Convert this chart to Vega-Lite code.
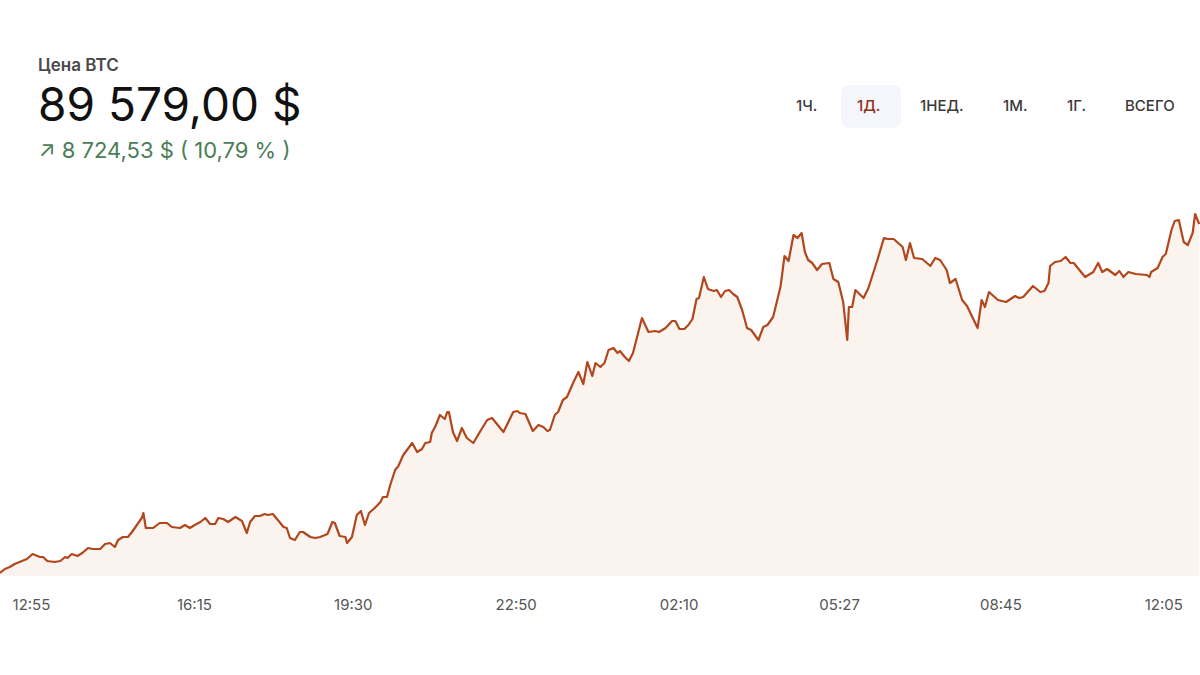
{
  "$schema": "https://vega.github.io/schema/vega-lite/v6.json",
  "width": 1200,
  "height": 386,
  "autosize": {"type": "none"},
  "padding": {"top": 190, "bottom": 99, "left": 0, "right": 0},
  "background": "white",
  "config": {"view": {"stroke": null}, "font": "Inter"},
  "title": {
    "text": "Цена BTC",
    "subtitle": "89 579,00 $",
    "anchor": "start",
    "frame": "group",
    "dx": 38,
    "font": "Inter",
    "fontSize": 17,
    "fontWeight": 600,
    "color": "#4a4a4a",
    "subtitleFont": "Inter",
    "subtitleFontSize": 46,
    "subtitleFontWeight": 400,
    "subtitleColor": "#111111",
    "subtitlePadding": 10,
    "offset": -46
  },
  "data": {
    "values": [
      {"m": 17, "price": 80854}, {"m": 23, "price": 80954}, {"m": 29, "price": 81004}, {"m": 35, "price": 81079},
      {"m": 44, "price": 81154}, {"m": 50, "price": 81204}, {"m": 57, "price": 81329}, {"m": 66, "price": 81254},
      {"m": 70, "price": 81254}, {"m": 75, "price": 81154}, {"m": 84, "price": 81129}, {"m": 91, "price": 81154},
      {"m": 97, "price": 81254}, {"m": 100, "price": 81229}, {"m": 105, "price": 81329}, {"m": 112, "price": 81279},
      {"m": 118, "price": 81354}, {"m": 125, "price": 81479}, {"m": 131, "price": 81454}, {"m": 140, "price": 81454},
      {"m": 146, "price": 81579}, {"m": 152, "price": 81604}, {"m": 158, "price": 81504}, {"m": 162, "price": 81679},
      {"m": 168, "price": 81754}, {"m": 174, "price": 81754}, {"m": 179, "price": 81879}, {"m": 185, "price": 82054},
      {"m": 191, "price": 82229}, {"m": 193, "price": 82354}, {"m": 196, "price": 81979}, {"m": 205, "price": 81979},
      {"m": 213, "price": 82104}, {"m": 222, "price": 82104}, {"m": 228, "price": 82004}, {"m": 238, "price": 81979},
      {"m": 244, "price": 82054}, {"m": 250, "price": 81979}, {"m": 256, "price": 82054}, {"m": 263, "price": 82129},
      {"m": 269, "price": 82229}, {"m": 275, "price": 82079}, {"m": 281, "price": 82079}, {"m": 285, "price": 82229},
      {"m": 291, "price": 82204}, {"m": 297, "price": 82129}, {"m": 306, "price": 82254}, {"m": 314, "price": 82154},
      {"m": 320, "price": 81854}, {"m": 324, "price": 82129}, {"m": 330, "price": 82279}, {"m": 336, "price": 82279},
      {"m": 342, "price": 82329}, {"m": 346, "price": 82304}, {"m": 352, "price": 82329}, {"m": 358, "price": 82179},
      {"m": 365, "price": 82004}, {"m": 369, "price": 81979}, {"m": 373, "price": 81729}, {"m": 379, "price": 81679},
      {"m": 385, "price": 81879}, {"m": 389, "price": 81879}, {"m": 398, "price": 81754}, {"m": 404, "price": 81729},
      {"m": 410, "price": 81754}, {"m": 419, "price": 81829}, {"m": 425, "price": 82129}, {"m": 428, "price": 82104},
      {"m": 434, "price": 81779}, {"m": 441, "price": 81754}, {"m": 443, "price": 81604}, {"m": 449, "price": 81754},
      {"m": 455, "price": 82304}, {"m": 460, "price": 82404}, {"m": 465, "price": 82054}, {"m": 470, "price": 82354},
      {"m": 477, "price": 82479}, {"m": 484, "price": 82629}, {"m": 487, "price": 82754}, {"m": 492, "price": 82754},
      {"m": 496, "price": 83054}, {"m": 502, "price": 83429}, {"m": 506, "price": 83529}, {"m": 512, "price": 83804},
      {"m": 523, "price": 84104}, {"m": 529, "price": 83879}, {"m": 535, "price": 83954}, {"m": 539, "price": 84104},
      {"m": 545, "price": 84129}, {"m": 547, "price": 84354}, {"m": 551, "price": 84504}, {"m": 557, "price": 84804},
      {"m": 563, "price": 84704}, {"m": 566, "price": 84879}, {"m": 568, "price": 84879}, {"m": 573, "price": 84379},
      {"m": 578, "price": 84154}, {"m": 584, "price": 84479}, {"m": 590, "price": 84229}, {"m": 598, "price": 84104},
      {"m": 606, "price": 84379}, {"m": 615, "price": 84679}, {"m": 621, "price": 84729}, {"m": 635, "price": 84379},
      {"m": 647, "price": 84879}, {"m": 652, "price": 84904}, {"m": 655, "price": 84854}, {"m": 662, "price": 84829},
      {"m": 671, "price": 84404}, {"m": 678, "price": 84554}, {"m": 684, "price": 84504}, {"m": 689, "price": 84404},
      {"m": 692, "price": 84429}, {"m": 698, "price": 84804}, {"m": 702, "price": 84879}, {"m": 708, "price": 85179},
      {"m": 713, "price": 85254}, {"m": 721, "price": 85629}, {"m": 727, "price": 85879}, {"m": 733, "price": 85579},
      {"m": 738, "price": 86129}, {"m": 744, "price": 85779}, {"m": 748, "price": 86104}, {"m": 754, "price": 86004},
      {"m": 759, "price": 86104}, {"m": 764, "price": 86429}, {"m": 770, "price": 86479}, {"m": 775, "price": 86354},
      {"m": 778, "price": 86404}, {"m": 784, "price": 86254}, {"m": 789, "price": 86154}, {"m": 794, "price": 86354},
      {"m": 805, "price": 87229}, {"m": 813, "price": 86879}, {"m": 821, "price": 86904}, {"m": 826, "price": 86879},
      {"m": 834, "price": 86979}, {"m": 842, "price": 87154}, {"m": 846, "price": 87154}, {"m": 851, "price": 86954},
      {"m": 857, "price": 86954}, {"m": 862, "price": 87054}, {"m": 867, "price": 87204}, {"m": 872, "price": 87704},
      {"m": 875, "price": 87729}, {"m": 881, "price": 88254}, {"m": 886, "price": 87954}, {"m": 893, "price": 87904},
      {"m": 897, "price": 87929}, {"m": 902, "price": 87754}, {"m": 907, "price": 87904}, {"m": 912, "price": 87929},
      {"m": 917, "price": 87829}, {"m": 922, "price": 87754}, {"m": 928, "price": 87429}, {"m": 934, "price": 86979},
      {"m": 939, "price": 86929}, {"m": 948, "price": 86679}, {"m": 954, "price": 87004}, {"m": 959, "price": 87054},
      {"m": 966, "price": 87254}, {"m": 975, "price": 88004}, {"m": 980, "price": 88779}, {"m": 985, "price": 88654},
      {"m": 991, "price": 89304}, {"m": 996, "price": 89229}, {"m": 1001, "price": 89354}, {"m": 1005, "price": 88879},
      {"m": 1009, "price": 88679}, {"m": 1014, "price": 88604}, {"m": 1020, "price": 88429}, {"m": 1026, "price": 88579},
      {"m": 1035, "price": 88604}, {"m": 1040, "price": 88204}, {"m": 1046, "price": 88129}, {"m": 1052, "price": 87629},
      {"m": 1057, "price": 86679}, {"m": 1059, "price": 87504}, {"m": 1063, "price": 87504}, {"m": 1067, "price": 87929},
      {"m": 1077, "price": 87729}, {"m": 1083, "price": 87979}, {"m": 1094, "price": 88679}, {"m": 1102, "price": 89229},
      {"m": 1107, "price": 89204}, {"m": 1114, "price": 89204}, {"m": 1125, "price": 89004}, {"m": 1129, "price": 88679},
      {"m": 1134, "price": 89104}, {"m": 1139, "price": 88729}, {"m": 1149, "price": 88704}, {"m": 1159, "price": 88529},
      {"m": 1165, "price": 88729}, {"m": 1171, "price": 88679}, {"m": 1179, "price": 88429}, {"m": 1183, "price": 88104},
      {"m": 1190, "price": 88204}, {"m": 1198, "price": 87679}, {"m": 1204, "price": 87529}, {"m": 1217, "price": 86979},
      {"m": 1222, "price": 87679}, {"m": 1226, "price": 87504}, {"m": 1231, "price": 87879}, {"m": 1242, "price": 87679},
      {"m": 1252, "price": 87629}, {"m": 1263, "price": 87779}, {"m": 1268, "price": 87729}, {"m": 1273, "price": 87754},
      {"m": 1285, "price": 88029}, {"m": 1294, "price": 87879}, {"m": 1299, "price": 87904}, {"m": 1304, "price": 88104},
      {"m": 1306, "price": 88529}, {"m": 1312, "price": 88629}, {"m": 1319, "price": 88654}, {"m": 1325, "price": 88754},
      {"m": 1331, "price": 88604}, {"m": 1335, "price": 88604}, {"m": 1349, "price": 88254}, {"m": 1359, "price": 88379},
      {"m": 1365, "price": 88604}, {"m": 1370, "price": 88379}, {"m": 1376, "price": 88454}, {"m": 1386, "price": 88304},
      {"m": 1391, "price": 88404}, {"m": 1396, "price": 88254}, {"m": 1402, "price": 88379}, {"m": 1411, "price": 88329},
      {"m": 1425, "price": 88304}, {"m": 1428, "price": 88254}, {"m": 1430, "price": 88379}, {"m": 1438, "price": 88479},
      {"m": 1444, "price": 88754}, {"m": 1448, "price": 88829}, {"m": 1455, "price": 89429}, {"m": 1459, "price": 89654},
      {"m": 1464, "price": 89679}, {"m": 1470, "price": 89129}, {"m": 1475, "price": 89054}, {"m": 1481, "price": 89354},
      {"m": 1484, "price": 89829}, {"m": 1489, "price": 89579}
    ]
  },
  "encoding": {
    "x": {
      "field": "m",
      "type": "quantitative",
      "scale": {"domain": [17, 1490], "nice": false, "zero": false},
      "axis": {
        "values": [55, 255, 450, 650, 850, 1047, 1245, 1445],
        "labelExpr": "datum.value == 55 ? '12:55' : datum.value == 255 ? '16:15' : datum.value == 450 ? '19:30' : datum.value == 650 ? '22:50' : datum.value == 850 ? '02:10' : datum.value == 1047 ? '05:27' : datum.value == 1245 ? '08:45' : '12:05'",
        "grid": false,
        "domain": false,
        "ticks": false,
        "tickSize": 0,
        "labelPadding": 21,
        "labelFont": "Inter",
        "labelFontSize": 15,
        "labelColor": "#555555",
        "labelFlush": false,
        "title": null
      }
    },
    "y": {
      "field": "price",
      "type": "quantitative",
      "scale": {"domain": [80779, 90429], "nice": false, "zero": false},
      "axis": {
        "labels": false,
        "ticks": false,
        "domain": false,
        "grid": false,
        "title": "↗ 8 724,53 $ ( 10,79 % )",
        "titleAngle": 0,
        "titleAlign": "left",
        "titleBaseline": "alphabetic",
        "titleX": 38,
        "titleY": -33,
        "titleFont": "Inter",
        "titleFontSize": 22,
        "titleFontWeight": 400,
        "titleColor": "#4b7d56"
      }
    }
  },
  "layer": [
    {
      "mark": {"type": "area", "clip": true},
      "encoding": {
        "fill": {
          "datum": 1,
          "type": "quantitative",
          "scale": {"domain": [0, 1], "range": ["#fbf3ee", "#fbf3ee"]},
          "legend": {
            "orient": "none",
            "legendX": 841,
            "legendY": -105,
            "zindex": 0,
            "title": null,
            "direction": "horizontal",
            "padding": 12,
            "cornerRadius": 8,
            "fillColor": "#f4f6fb",
            "strokeColor": null,
            "gradientLength": 36,
            "gradientThickness": 18,
            "gradientOpacity": 0,
            "gradientStrokeWidth": 0,
            "values": [0, 1],
            "labelExpr": "''",
            "labelOffset": 0,
            "labelFontSize": 1,
            "labelOpacity": 0
          }
        }
      }
    },
    {
      "mark": {"type": "line", "strokeWidth": 2.2, "strokeJoin": "round"},
      "encoding": {
        "color": {
          "datum": "1Д.",
          "scale": {
            "domain": ["1Ч.", "1Д.", "1НЕД.", "1М.", "1Г.", "ВСЕГО"],
            "range": ["#b2461c", "#b2461c", "#b2461c", "#b2461c", "#b2461c", "#b2461c"]
          },
          "legend": {
            "orient": "none",
            "legendX": 781,
            "legendY": -92,
            "zindex": 1,
            "direction": "horizontal",
            "title": null,
            "padding": 0,
            "symbolOpacity": 0,
            "symbolSize": 0,
            "symbolStrokeWidth": 0,
            "labelOffset": 0,
            "columnPadding": 24,
            "labelFont": "Inter",
            "labelFontSize": 15,
            "labelFontWeight": 500,
            "labelColor": {"expr": "datum.label == '1Д.' ? '#8e3018' : '#3a3a3a'"}
          }
        }
      }
    }
  ]
}
